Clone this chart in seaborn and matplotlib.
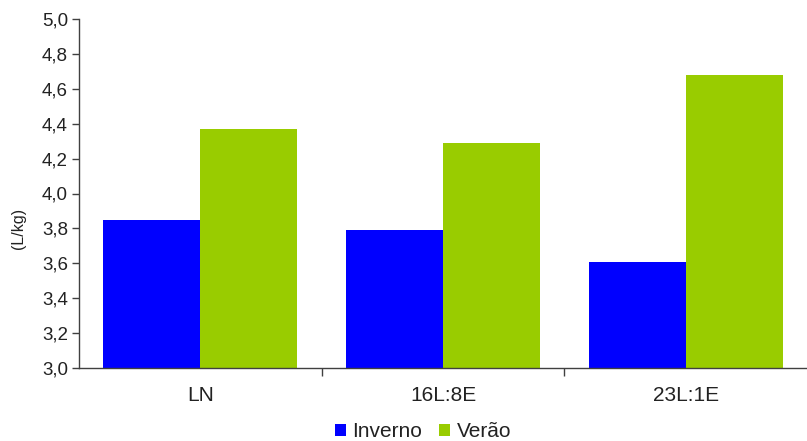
import matplotlib
matplotlib.use("Agg")
import matplotlib.pyplot as plt
import matplotlib.ticker as mticker
import seaborn as sns
import pandas as pd

categories = ["LN", "16L:8E", "23L:1E"]
inverno = [3.85, 3.79, 3.61]
verao = [4.37, 4.29, 4.68]
series_names = ["Inverno", "Verão"]
colors = ["#0000FF", "#99CC00"]

df = pd.DataFrame({
    "cat": categories * 2,
    "valor": inverno + verao,
    "estacao": [series_names[0]] * 3 + [series_names[1]] * 3,
})

sns.set_style("white")
plt.rcParams["font.family"] = ["Liberation Sans", "DejaVu Sans"]

fig = plt.figure(figsize=(8.07, 4.41), dpi=100)
ax = fig.add_axes([79 / 807, 1 - 368 / 441, 1 - 79 / 807, (368 - 19) / 441])

sns.barplot(data=df, x="cat", y="valor", hue="estacao", palette=colors,
            saturation=1, width=0.8, linewidth=0, ax=ax, legend=True)

ax.set_ylim(3.0, 5.0)
ax.set_xlim(-0.5, 2.5)
ax.yaxis.set_major_locator(mticker.MultipleLocator(0.2))
ax.yaxis.set_major_formatter(mticker.FuncFormatter(lambda v, p: f"{v:.1f}".replace(".", ",")))

# category labels without ticks; boundary ticks between groups
ax.set_xticks(range(len(categories)))
ax.set_xticklabels(categories)
ax.set_xticks([0.5, 1.5], minor=True)
ax.tick_params(axis="both", which="both", bottom=True, left=True)
ax.tick_params(axis="x", which="major", length=0, pad=13, labelsize=15, labelcolor="#222222")
ax.tick_params(axis="x", which="minor", length=6, width=1, color="#404040", direction="out")
ax.tick_params(axis="y", which="major", length=5, width=1, color="#404040", direction="out",
               labelsize=13.5, pad=3, labelcolor="#222222")

for side in ["top", "right"]:
    ax.spines[side].set_visible(False)
for side in ["left", "bottom"]:
    ax.spines[side].set_color("#404040")
    ax.spines[side].set_linewidth(1)

ax.set_xlabel("")
ax.set_ylabel("(L/kg)", fontsize=11.5, color="#222222")
ax.yaxis.set_label_coords(-0.073, 0.40)

handles, labels = ax.get_legend_handles_labels()
ax.legend(handles, labels, loc="center", bbox_to_anchor=(0.4725, -0.183),
          ncol=2, frameon=False, fontsize=15, handlelength=0.55, handleheight=0.55,
          handletextpad=0.3, columnspacing=0.8, labelcolor="#222222",
          borderpad=0, borderaxespad=0)

fig.savefig("out.png", dpi=100)
